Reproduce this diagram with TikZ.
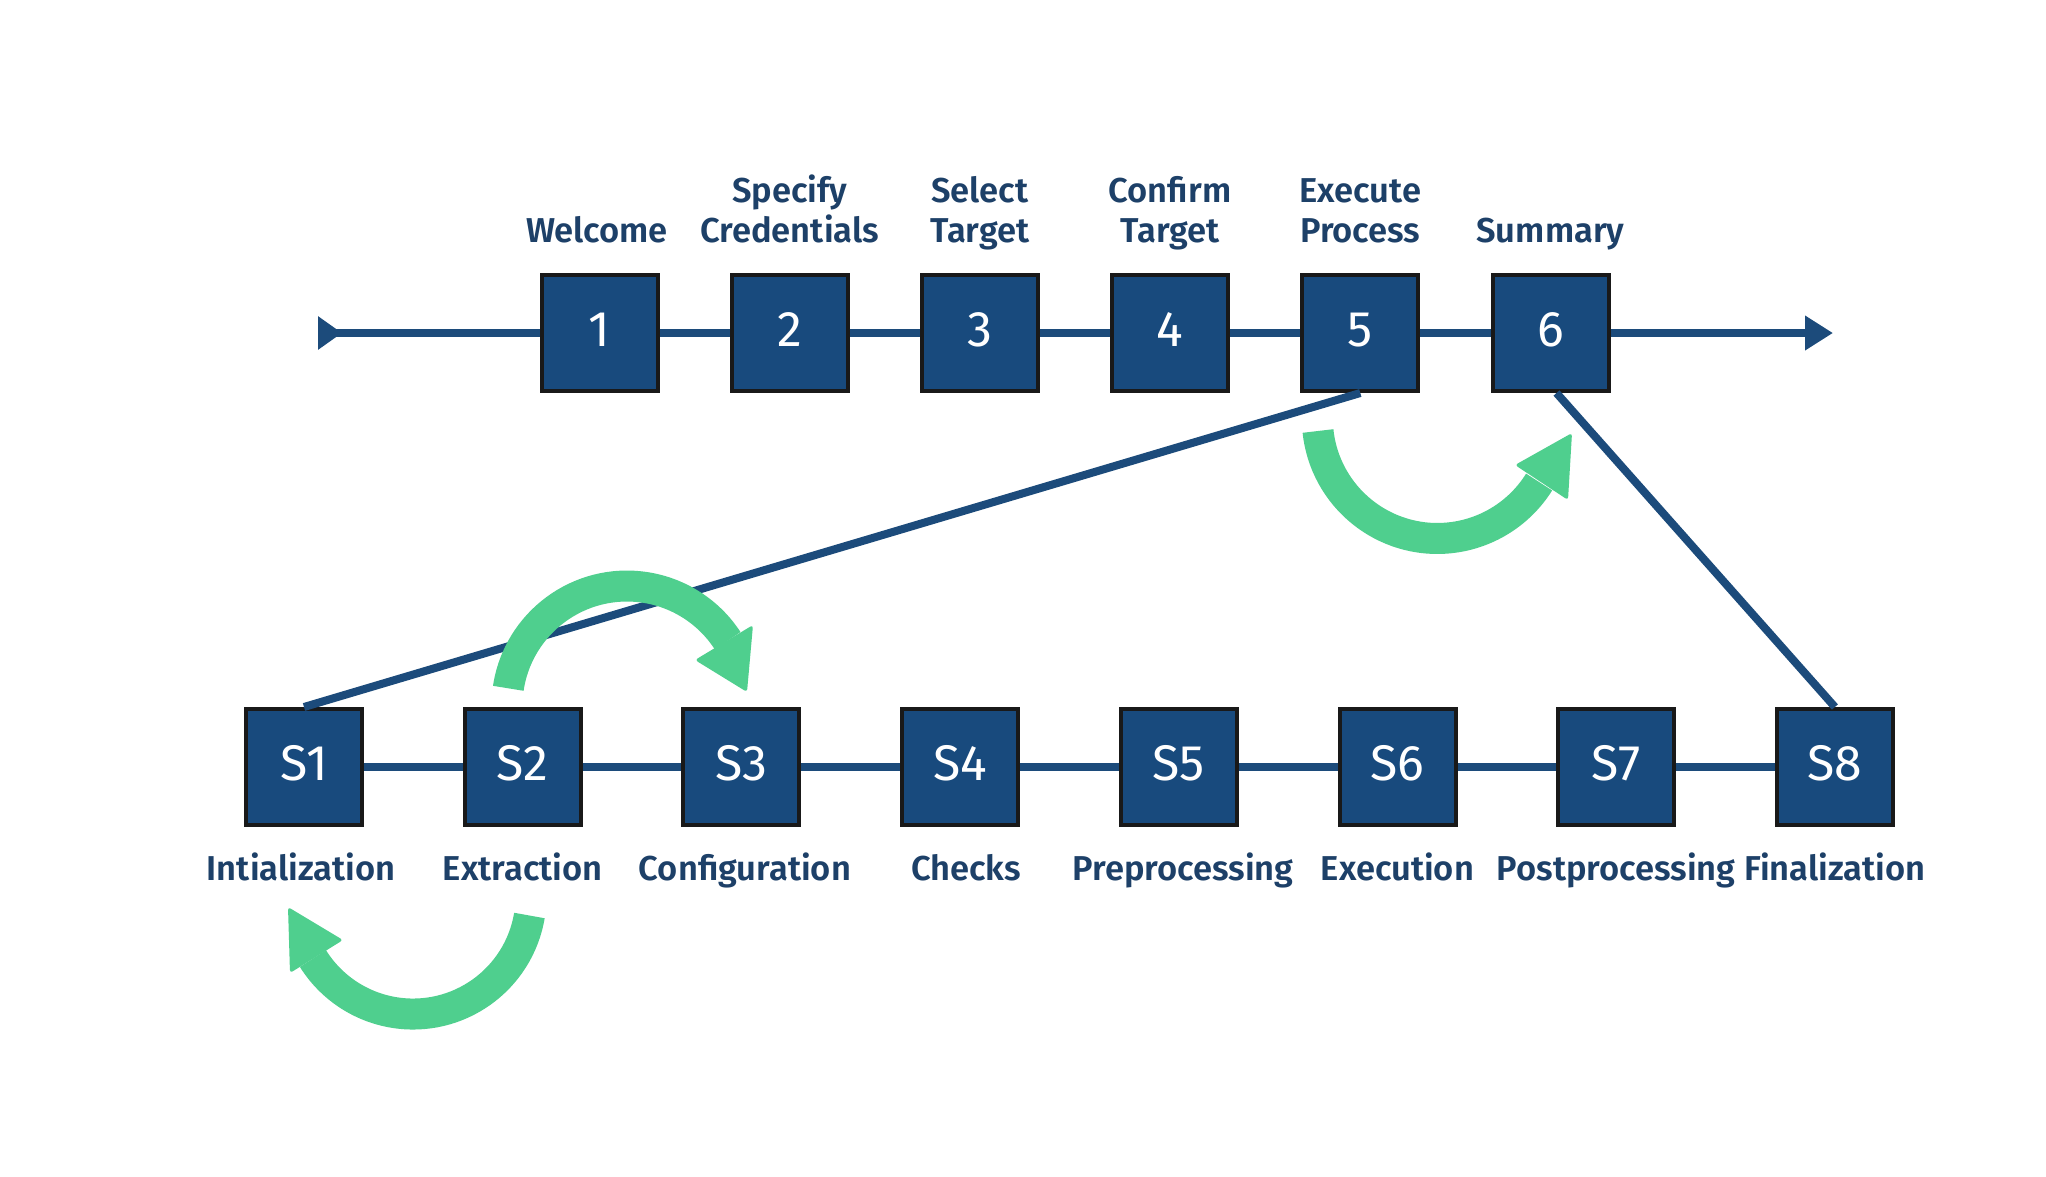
\documentclass[tikz,border=0pt]{standalone}
\usepackage{fontspec}
\setmainfont{Fira Sans}
\newfontfamily\labelfont{Fira Sans SemiBold}
\usetikzlibrary{arrows.meta}
\definecolor{navy}{HTML}{184A7D}
\definecolor{linec}{HTML}{1C4B7B}
\definecolor{txt}{HTML}{1D4068}
\definecolor{grn}{HTML}{4FCF8E}
\tikzset{
  box/.style={draw=black!90, line width=4pt, fill=navy, minimum size=116pt, inner sep=0pt,
    text=white, font=\fontsize{50}{50}\selectfont, text height=26pt, text depth=0pt},
  toplab/.style={anchor=south, inner sep=0pt, text depth=0pt, align=center, text=txt,
    font=\labelfont\fontsize{34.5}{40}\selectfont},
  botlab/.style={anchor=base, inner sep=0pt, text=txt, font=\labelfont\fontsize{34.5}{40}\selectfont},
  conn/.style={draw=linec, line width=8pt},
  garrow/.style={draw=grn, line width=31pt},
  ghead/.style={fill=grn, rounded corners=3pt},
}
\begin{document}
\begin{tikzpicture}[x=1pt,y=-1pt]
\useasboundingbox[fill=white] (0,0) rectangle (2046,1176);
% top row
\node[box] (n1) at (599.5,333) {1};
\node[box] (n2) at (789.7,333) {2};
\node[box] (n3) at (979.9,333) {3};
\node[box] (n4) at (1170.1,333) {4};
\node[box] (n5) at (1360.3,333) {5};
\node[box] (n6) at (1550.5,333) {6};
\coordinate (start) at (318,333);
\coordinate (end) at (1833,333);
\node[toplab] (l1) at (597,243) {Welcome};
\node[toplab] (l2) at (789.7,243) {Specify\\Credentials};
\node[toplab] (l3) at (979.9,243) {Select\\Target};
\node[toplab] (l4) at (1170.1,243) {Confirm\\Target};
\node[toplab] (l5) at (1360.3,243) {Execute\\Process};
\node[toplab] (l6) at (1550.5,243) {Summary};
% bottom row
\node[box] (s1) at (304,767) {S1};
\node[box] (s2) at (522.7,767) {S2};
\node[box] (s3) at (741.4,767) {S3};
\node[box] (s4) at (960.1,767) {S4};
\node[box] (s5) at (1178.8,767) {S5};
\node[box] (s6) at (1397.5,767) {S6};
\node[box] (s7) at (1616.2,767) {S7};
\node[box] (s8) at (1834.9,767) {S8};
\node[botlab] (b1) at (301,880) {Intialization};
\node[botlab] (b2) at (522.7,880) {Extraction};
\node[botlab] (b3) at (745,880) {Configuration};
\node[botlab] (b4) at (966,880) {Checks};
\node[botlab] (b5) at (1183,880) {Preprocessing};
\node[botlab] (b6) at (1397.5,880) {Execution};
\node[botlab] (b7) at (1616.2,880) {Postprocessing};
\node[botlab] (b8) at (1834.9,880) {Finalization};
% connectors
\draw[conn, {Triangle[reversed,length=24pt,width=32pt]}-] (start) -- (n1);
\draw[conn] (n1) -- (n2);
\draw[conn] (n2) -- (n3);
\draw[conn] (n3) -- (n4);
\draw[conn] (n4) -- (n5);
\draw[conn] (n5) -- (n6);
\draw[conn, -{Triangle[length=28pt,width=33pt]}] (n6) -- (end);
\draw[conn] (s1) -- (s2);
\draw[conn] (s2) -- (s3);
\draw[conn] (s3) -- (s4);
\draw[conn] (s4) -- (s5);
\draw[conn] (s5) -- (s6);
\draw[conn] (s6) -- (s7);
\draw[conn] (s7) -- (s8);
\draw[conn] (n5.south) -- (s1.north);
\draw[conn] ([xshift=6pt]n6.south) -- (s8.north);
% green arrows
\draw[garrow] (1318,431) arc[start angle=174, end angle=32, radius=120];
\fill[ghead] (1572,433) -- (1515,465) -- (1568,500) -- cycle;
\draw[garrow] (508.3,688.3) arc[start angle=188.5, end angle=327, radius=120];
\fill[ghead] (747,692) -- (695,660) -- (753,625) -- cycle;
\draw[garrow] (529.4,915.5) arc[start angle=9.5, end angle=148, radius=118];
\fill[ghead] (288,907) -- (343,940) -- (290,973) -- cycle;
\end{tikzpicture}
\end{document}
